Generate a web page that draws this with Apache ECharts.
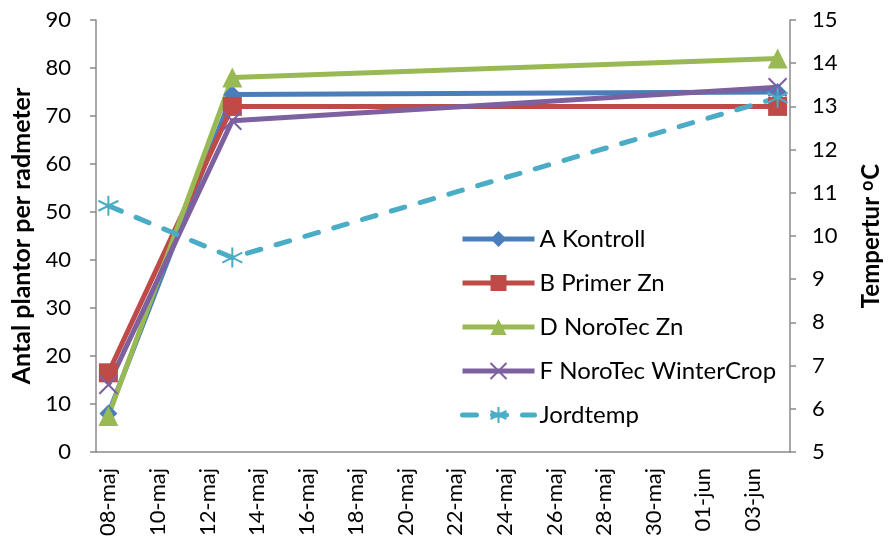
<!DOCTYPE html>
<html>
<head>
<meta charset="utf-8">
<script src="https://cdn.jsdelivr.net/npm/echarts@6/dist/echarts.min.js"></script>
<style>html,body{margin:0;padding:0;background:#fff}#c{width:891px;height:545px}</style>
</head>
<body>
<div id="c"></div>
<script>
// Observation dates and values
var dates = ['08-maj', '13-maj', '04-jun'];
var aKontroll = [8, 74.5, 75];
var bPrimerZn = [16.5, 72, 72];
var dNoroTecZn = [7.5, 78, 82];
var fWinterCrop = [14, 69, 76];
var jordtemp = [10.7, 9.5, 13.2];

// Daily date-axis categories 08-maj .. 04-jun
var dayCategories = [];
(function(){
  for (var d = 8; d <= 31; d++) dayCategories.push((d < 10 ? '0' : '') + d + '-maj');
  for (var j = 1; j <= 4; j++) dayCategories.push('0' + j + '-jun');
})();

var leftTicks = {min: 0, max: 90, interval: 10};
var rightTicks = {min: 5, max: 15, interval: 1};

function pairs(vals){ return dates.map(function(d,i){ return [d, vals[i]]; }); }

var FONT = 'Lato';
var axisColor = '#8a8a8a';
var xPath = 'path://M0,0L10,10M10,0L0,10';
var starPath = 'path://M5,0L5,10M0.7,2.5L9.3,7.5M0.7,7.5L9.3,2.5';

function lineSeries(name, vals, color, symbol, size, extra){
  var s = {
    name: name, type: 'line', data: pairs(vals),
    symbol: symbol, symbolSize: size, showSymbol: true, showAllSymbol: true,
    lineStyle: {color: color, width: 5},
    itemStyle: {color: color},
    emphasis: {disabled: true},
    animation: false
  };
  if (extra) for (var k in extra) s[k] = extra[k];
  return s;
}

var chart = echarts.init(document.getElementById('c'));
chart.setOption({
  animation: false,
  textStyle: {fontFamily: FONT},
  grid: {left: 96, right: 90, top: 20, bottom: 93},
  legend: {
    orient: 'vertical', left: 455, top: 222,
    itemWidth: 72, itemHeight: 20, itemGap: 20,
    lineStyle: {width: 5},
    textStyle: {fontFamily: FONT, fontSize: 24, color: '#000', lineHeight: 20},
    data: ['A Kontroll', 'B Primer Zn', 'D NoroTec Zn', 'F NoroTec WinterCrop', 'Jordtemp']
  },
  xAxis: {
    type: 'category', data: dayCategories, boundaryGap: true,
    axisLine: {lineStyle: {color: axisColor, width: 1.5}},
    axisTick: {interval: 1, length: 7, lineStyle: {color: axisColor, width: 1.5}},
    axisLabel: {interval: 1, rotate: 90, fontFamily: FONT, fontSize: 22, color: '#000', margin: 16}
  },
  yAxis: [{
    type: 'value', min: leftTicks.min, max: leftTicks.max, interval: leftTicks.interval,
    name: 'Antal plantor per radmeter', nameLocation: 'middle', nameGap: 60, nameRotate: 90,
    nameTextStyle: {fontFamily: FONT, fontSize: 25, fontWeight: 'bold', color: '#000'},
    splitLine: {show: false},
    axisLine: {show: true, lineStyle: {color: axisColor, width: 1.5}},
    axisTick: {show: true, length: 6, lineStyle: {color: axisColor, width: 1.5}},
    axisLabel: {fontFamily: FONT, fontSize: 22, color: '#000', margin: 25}
  }, {
    type: 'value', position: 'right', min: rightTicks.min, max: rightTicks.max, interval: rightTicks.interval,
    name: 'Tempertur {sup|o}C', nameLocation: 'middle', nameGap: 68, nameRotate: 90,
    nameTextStyle: {fontFamily: FONT, fontSize: 24, fontWeight: 'bold', color: '#000',
      rich: {sup: {fontFamily: FONT, fontSize: 18, fontWeight: 'bold', color: '#000', padding: [0,1,8,0]}}},
    splitLine: {show: false},
    axisLine: {show: true, lineStyle: {color: axisColor, width: 1.5}},
    axisTick: {show: true, length: 6, lineStyle: {color: axisColor, width: 1.5}},
    axisLabel: {fontFamily: FONT, fontSize: 22, color: '#000', margin: 22}
  }],
  series: [
    lineSeries('A Kontroll', aKontroll, '#4A7EBB', 'diamond', 18),
    lineSeries('B Primer Zn', bPrimerZn, '#BE4B48', 'rect', 19),
    lineSeries('D NoroTec Zn', dNoroTecZn, '#98B954', 'triangle', 20),
    lineSeries('F NoroTec WinterCrop', fWinterCrop, '#7D60A0', xPath, 18,
      {itemStyle: {color: 'rgba(0,0,0,0)', borderColor: '#7D60A0', borderWidth: 2}}),
    lineSeries('Jordtemp', jordtemp, '#4BACC6', starPath, 20,
      {yAxisIndex: 1,
       lineStyle: {color: '#4BACC6', width: 5, type: [14, 16], cap: 'round'},
       itemStyle: {color: 'rgba(0,0,0,0)', borderColor: '#4BACC6', borderWidth: 2}})
  ]
});
</script>
</body>
</html>
